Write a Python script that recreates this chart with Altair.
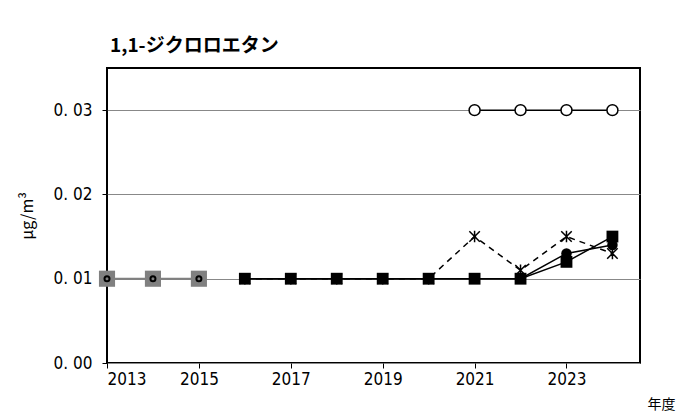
import altair as alt
import pandas as pd

# Data
years_a = [2021, 2022, 2023, 2024]
open_circle_vals = [0.03, 0.03, 0.03, 0.03]

years_b = [2016, 2017, 2018, 2019, 2020, 2021, 2022, 2023, 2024]
asterisk_vals = [0.01, 0.01, 0.01, 0.01, 0.01, 0.015, 0.011, 0.015, 0.013]

filled_circle_years = [2016, 2017, 2018, 2019, 2020, 2021, 2022, 2023, 2024]
filled_circle_vals = [0.01, 0.01, 0.01, 0.01, 0.01, 0.01, 0.01, 0.013, 0.014]

square_years = [2016, 2017, 2018, 2019, 2020, 2021, 2022, 2023, 2024]
square_vals = [0.01, 0.01, 0.01, 0.01, 0.01, 0.01, 0.01, 0.012, 0.015]

gray_years = [2013, 2014, 2015]
gray_vals = [0.01, 0.01, 0.01]

df_open = pd.DataFrame({"year": years_a, "value": open_circle_vals})
df_ast = pd.DataFrame({"year": years_b, "value": asterisk_vals})
df_fc = pd.DataFrame({"year": filled_circle_years, "value": filled_circle_vals})
df_sq = pd.DataFrame({"year": square_years, "value": square_vals})
df_gray = pd.DataFrame({"year": gray_years, "value": gray_vals})

FONT = "Noto Sans CJK JP"
LABEL_FONT = "DejaVu Sans Condensed, Liberation Sans Narrow, Noto Sans CJK JP, sans-serif"

x_enc = alt.X(
    "year:Q",
    scale=alt.Scale(domain=[2013, 2024.6], nice=False, zero=False),
    axis=alt.Axis(
        values=[2013, 2015, 2017, 2019, 2021, 2023],
        format="d",
        grid=False,
        domain=False,
        tickColor="black",
        tickSize=5,
        labelFont=LABEL_FONT,
        labelFontSize=17,
        labelColor="black",
        labelPadding=3,
        title="年度",
        titleFont=FONT,
        titleFontSize=14,
        titleFontWeight="normal",
        titleColor="black",
        titleAnchor="end",
        titleAlign="right",
        titleBaseline="bottom",
        titleX=568,
        titleY=48,
    ),
)
y_enc = alt.Y(
    "value:Q",
    scale=alt.Scale(domain=[0, 0.035], nice=False),
    axis=alt.Axis(
        values=[0, 0.01, 0.02, 0.03],
        labelExpr="replace(format(datum.value, '.2f'), '.', '. ')",
        grid=True,
        gridColor="#888888",
        gridWidth=1,
        domain=False,
        tickColor="black",
        tickSize=5,
        labelFont=LABEL_FONT,
        labelFontSize=17,
        labelColor="black",
        labelPadding=10,
        title="μg/m³",
        titleFont=FONT,
        titleFontSize=16,
        titleFontWeight="normal",
        titleColor="black",
        titlePadding=18,
    ),
)

base_gray = alt.Chart(df_gray).encode(x=x_enc, y=y_enc)
gray_line = base_gray.mark_line(color="#808080", strokeWidth=2)

line_open = alt.Chart(df_open).mark_line(color="black", strokeWidth=1.5).encode(x="year:Q", y="value:Q")
line_ast = alt.Chart(df_ast).mark_line(color="black", strokeWidth=1.5, strokeDash=[6, 5]).encode(x="year:Q", y="value:Q")
line_fc = alt.Chart(df_fc).mark_line(color="black", strokeWidth=1.5).encode(x="year:Q", y="value:Q")
line_sq = alt.Chart(df_sq).mark_line(color="black", strokeWidth=1.5).encode(x="year:Q", y="value:Q")

pts_gray = base_gray.mark_point(
    shape="square", filled=True, color="#808080", size=260, opacity=1,
)
pts_gray_inner = base_gray.mark_point(
    shape="circle", filled=False, color="black", size=25, strokeWidth=2, opacity=1
)

pts_open = alt.Chart(df_open).mark_point(
    shape="circle", filled=True, fill="white", stroke="black", strokeWidth=1.5, size=120, opacity=1
).encode(x="year:Q", y="value:Q")

asterisk = "M-1,-1L1,1M-1,1L1,-1M0,-1.1L0,1.1"
pts_ast = alt.Chart(df_ast).mark_point(
    shape=asterisk, filled=False, color="black", strokeWidth=1.5, size=110, opacity=1
).encode(x="year:Q", y="value:Q")

pts_fc = alt.Chart(df_fc).mark_point(
    shape="circle", filled=True, color="black", size=110, opacity=1
).encode(x="year:Q", y="value:Q")

pts_sq = alt.Chart(df_sq).mark_point(
    shape="square", filled=True, color="black", size=140, opacity=1
).encode(x="year:Q", y="value:Q")

chart = (
    alt.layer(
        gray_line, line_open, line_ast, line_fc, line_sq,
        pts_gray, pts_gray_inner, pts_open, pts_ast, pts_fc, pts_sq,
    )
    .properties(
        width=533,
        height=295,
        autosize=alt.AutoSizeParams(type="none"),
        padding={"left": 99, "top": 60, "right": 40, "bottom": 50},
        title=alt.TitleParams(
            "1,1-ジクロロエタン",
            anchor="start",
            frame="group",
            font=FONT,
            fontSize=19,
            fontWeight="bold",
            color="black",
            offset=12,
            dx=3,
        ),
    )
    .configure(background="white")
    .configure_view(stroke="black", strokeWidth=2)
)

chart.save("out.html", embed_options={"renderer": "svg", "actions": False})
